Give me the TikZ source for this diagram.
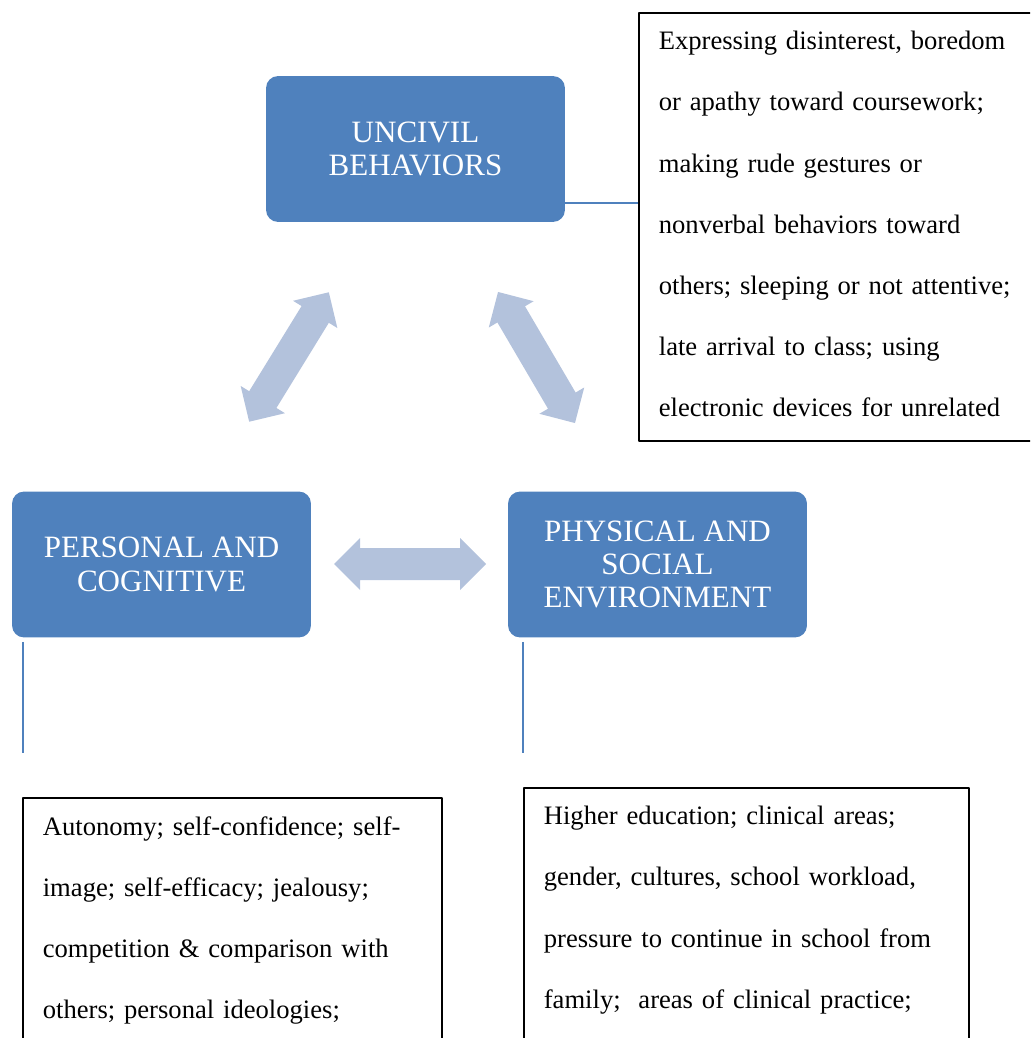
\documentclass[tikz,border=0pt]{standalone}
\usepackage{fontspec}
\setmainfont{Liberation Serif}
\usetikzlibrary{calc}
\definecolor{boxblue}{HTML}{4F81BD}
\definecolor{arrowblue}{HTML}{B3C2DC}

\begin{document}
\begin{tikzpicture}[line cap=round,line join=round,x=0.451pt,y=-0.451pt,
  factor/.style={rounded corners=5.4pt,fill=boxblue,text=white,align=center,
    minimum width=134.8pt,minimum height=65.8pt,inner sep=0pt,
    font=\fontsize{14}{15}\selectfont},
  notebox/.style={draw=black,line width=0.8pt,anchor=north west,align=left,
    inner xsep=9pt,inner ysep=8.3pt,font=\fontsize{12}{27.6}\selectfont},
  link/.style={draw=boxblue,line width=0.9pt,line cap=butt},
  bigarrow/.style={fill=arrowblue}]
\useasboundingbox (0,0) rectangle (1030,1038);
\clip (0,0) rectangle (1030,1038);
% the three factors
\node[factor] (uncivil) at (415.5,149) {UNCIVIL\\BEHAVIORS};
\node[factor] (personal) at (161.5,564.5) {PERSONAL AND\\COGNITIVE};
\node[factor] (physical) at (657.5,564.5) {PHYSICAL AND\\SOCIAL\\ENVIRONMENT};
% block arrows between them
\foreach \cx/\cy/\ang in {289/357/58.4, 536.5/357.5/-59.6, 410/564/0}
  \fill[bigarrow,shift={(\cx,\cy)},rotate=\ang] (-76,0) -- (-50,-26) -- (-50,-16)
    -- (50,-16) -- (50,-26) -- (76,0) -- (50,26) -- (50,16) -- (-50,16) -- (-50,26) -- cycle;
% notes
\node[notebox,text width=180pt] (behavbox) at (638,12)
  {Expressing disinterest, boredom\\or apathy toward coursework;\\making rude gestures or\\
   nonverbal behaviors toward\\others; sleeping or not attentive;\\late arrival to class; using\\
   electronic devices for unrelated\vphantom{g}};
\node[notebox,text width=171pt] (personbox) at (22,797)
  {Autonomy; self-confidence; self-\\image; self-efficacy; jealousy;\\
   competition \& comparison with\\others; personal ideologies;\\~};
\node[notebox,text width=182.7pt] (physbox) at (523,787)
  {Higher education; clinical areas;\\gender, cultures, school workload,\\
   pressure to continue in school from\\family;\ \ areas of clinical practice;\\~};
% links to the notes
\coordinate (ubend) at (548,203);
\draw[link] (ubend) -- (ubend -| behavbox.west);
\draw[link] ($(personal.south -| personbox.west)+(1,4)$) -- ++(0,111);
\draw[link] ($(physical.south -| physbox.west)+(0,4)$) -- ++(0,111);
\end{tikzpicture}
\end{document}
